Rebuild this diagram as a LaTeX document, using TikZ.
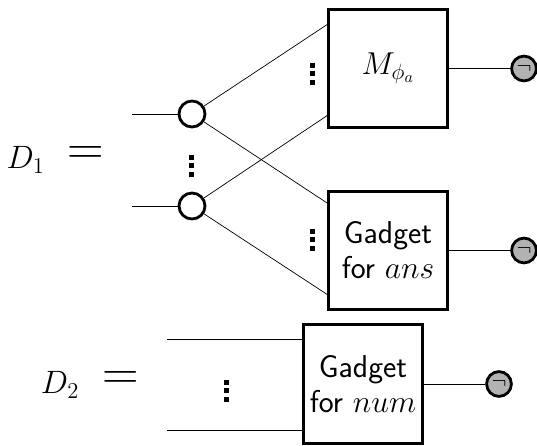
\RequirePackage{fix-cm}
\documentclass[tikz,border=0pt]{standalone}
\usepackage{amsmath}
\usepackage{amssymb}
\usepackage{tikz}

\newcommand{\sqdots}{\vbox{\offinterlineskip
  \hbox{\rule{0.125cm}{0.125cm}}\kern0.09cm
  \hbox{\rule{0.125cm}{0.125cm}}\kern0.09cm
  \hbox{\rule{0.125cm}{0.125cm}}}}

\tikzset{
  gadget/.style={rectangle, draw, line width=0.07cm, minimum size=2.96cm, inner sep=0pt, align=center,
    font=\sffamily\fontsize{22.5}{25}\selectfont},
  fanout/.style={circle, draw, fill=white, line width=0.07cm, minimum size=0.65cm, inner sep=0pt},
  negate/.style={circle, draw, fill=gray!60, line width=0.07cm, minimum size=0.62cm, inner sep=0pt,
    font=\fontsize{16}{16}\selectfont},
  wire/.style={line width=0.5pt},
  sqd/.style={inner sep=0pt},
  eqname/.style={inner sep=0pt, font=\fontsize{23}{25}\selectfont},
  eqsign/.style={inner sep=0pt, font=\fontsize{36}{36}\selectfont}
}

\begin{document}
\begin{tikzpicture}
\useasboundingbox (0,0) rectangle (13.425,11.15);

\coordinate (in1) at (3.3,8.3);
\coordinate (in2) at (3.3,6.0);
\coordinate (m1) at (8.2,10.55);
\coordinate (m2) at (8.2,8.275);
\coordinate (g1) at (8.2,6.06);
\coordinate (g2) at (8.2,3.775);
\coordinate (n1) at (4.175,2.675);
\coordinate (n2) at (4.175,0.4);
\coordinate (n1r) at (7.55,2.675);
\coordinate (n2r) at (7.55,0.4);

\node (f1) at (4.8,8.3) [fanout] {} edge[-, wire] (in1) edge[-, wire] (m1) edge[-, wire] (g1);
\node (f2) at (4.8,6.0) [fanout] {} edge[-, wire] (in2) edge[-, wire] (m2) edge[-, wire] (g2);

\node (M) at (9.7,9.4375) [gadget] {$M_{\phi_a}$};
\node (ans) at (9.7,4.8875) [gadget] {Gadget\\for $ans$};
\node (num) at (9.075,1.55) [gadget] {Gadget\\for $num$};
\draw[wire] (n1) -- (n1r);
\draw[wire] (n2) -- (n2r);

\node (negM) at (13.1,9.4375) [negate] {$\neg$} edge[-, wire] (M);
\node (negans) at (13.1,4.8875) [negate] {$\neg$} edge[-, wire] (ans);
\node (negnum) at (12.475,1.55) [negate] {$\neg$} edge[-, wire] (num);

\node (d1) at (7.8,9.3) [sqd] {\sqdots};
\node (d2) at (4.78,7.0) [sqd] {\sqdots};
\node (d3) at (7.8,5.15) [sqd] {\sqdots};
\node (d4) at (5.67,1.38) [sqd] {\sqdots};

\node (D1) at (0.64,7.16) [eqname] {$D_1$};
\node (eq1) at (2.15,7.25) [eqsign] {$=$};
\node (D2) at (1.5,1.525) [eqname] {$D_2$};
\node (eq2) at (3.025,1.625) [eqsign] {$=$};
\end{tikzpicture}
\end{document}
